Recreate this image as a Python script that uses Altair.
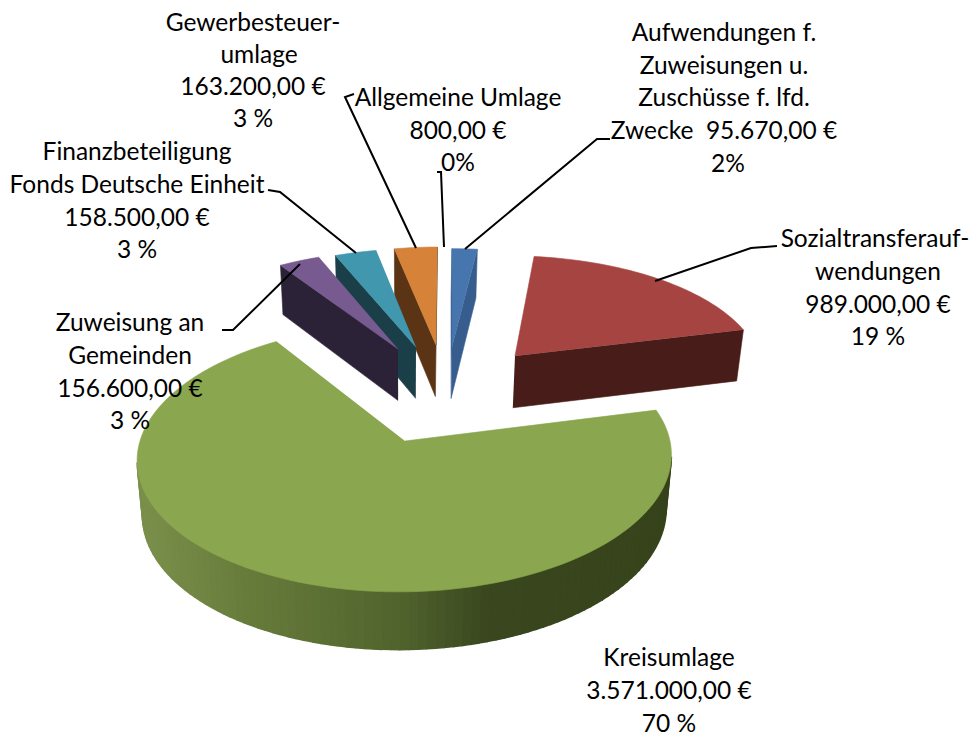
import math
import altair as alt
import pandas as pd

# ---- chart values
categories = ["Aufwendungen f. Zuweisungen u. Zuschüsse f. lfd. Zwecke", "Sozialtransferaufwendungen",
              "Kreisumlage", "Zuweisung an Gemeinden", "Finanzbeteiligung Fonds Deutsche Einheit",
              "Gewerbesteuerumlage", "Allgemeine Umlage"]
amounts = [95670, 989000, 3571000, 156600, 158500, 163200, 800]

top_colors = ["#4676ad", "#a54441", "#8aa64e", "#775a8f", "#4197ae", "#d68339", "#4f81bd"]
wall_colors = ["#375d8e", "#481c18", "#37441b", "#2c2238", "#1a3f49", "#5a3415", "#2f5582"]
# screen position of each slice's tip (exploded pie)
tip_x = [452, 515, 405, 398, 416, 436, 444]
tip_y = [347, 356, 441, 349, 347, 345, 345]
paint_order = [6, 5, 4, 3, 0, 1, 2]

label_lines = [
    ("Aufwendungen f.", 724, 34), ("Zuweisungen u.", 724, 67), ("Zuschüsse f. lfd.", 724, 99),
    ("Zwecke\u00a0\u00a095.670,00 €", 724, 132), ("2%", 728, 165),
    ("Gewerbesteuer-", 253, 24), ("umlage", 259, 56), ("163.200,00 €", 253, 88), ("3 %", 253, 120),
    ("Allgemeine Umlage", 458, 99), ("800,00 €", 458, 132), ("0%", 458, 164),
    ("Finanzbeteiligung", 137, 153), ("Fonds Deutsche Einheit", 137, 186), ("158.500,00 €", 137, 219), ("3 %", 137, 251),
    ("Zuweisung an", 130, 324), ("Gemeinden", 130, 357), ("156.600,00 €", 130, 390), ("3 %", 130, 422),
    ("Sozialtransferauf-", 875, 240), ("wendungen", 878, 273), ("989.000,00 €", 878, 306), ("19 %", 878, 338),
    ("Kreisumlage", 669, 659), ("3.571.000,00 €", 669, 692), ("70 %", 669, 725),
]
leaders = [
    [(777, 246), (751, 248), (655, 281)],
    [(610, 139), (597, 139), (465, 249)],
    [(437, 172), (441, 172), (444, 247)],
    [(354, 94), (345, 97), (416, 248)],
    [(268, 190), (280, 192), (356, 253)],
    [(222, 330), (233, 330), (300, 264)],
]

# ---- 3-D pie geometry (perspective view of a tilted disc)
VX, CY, R, RS, P = 452, 441, 265, 132, 0.125


def project(u, v):
    w = 1 - P * v
    return VX + R * u / w, CY + RS * v / w, w


def base(x, y, w):
    d = 54 / math.sqrt(w)
    return 405 + (x - 405) * 0.98, y + d


def mix(stops, x):
    if x <= stops[0][0]:
        return stops[0][1]
    for (x0, c0), (x1, c1) in zip(stops, stops[1:]):
        if x <= x1:
            t = (x - x0) / (x1 - x0)
            rgb = [round(int(c0[i:i + 2], 16) * (1 - t) + int(c1[i:i + 2], 16) * t) for i in (1, 3, 5)]
            return "#%02x%02x%02x" % tuple(rgb)
    return stops[-1][1]


green_stops = [(144, "#7a8f4a"), (250, "#667b3a"), (400, "#50632d"), (490, "#3a471e"), (672, "#36431b")]

rows = []
poly_id = [0]


def add_poly(points, fill, sw):
    for i, (x, y) in enumerate(points):
        rows.append({"x": x, "y": y, "poly": poly_id[0], "i": i, "fill": fill, "sw": sw})
    poly_id[0] += 1


total = sum(amounts)
start = 0.0
slices = {}
for k, amt in enumerate(amounts):
    sweep = 2 * math.pi * amt / total
    dx, dy = tip_x[k] - VX, tip_y[k] - CY
    v0 = dy / (RS + P * dy)
    u0 = dx * (1 - P * v0) / R
    n = max(2, int(sweep / 0.03))
    arc = []
    for j in range(n + 1):
        a = start + sweep * j / n
        arc.append(project(u0 + math.sin(a), v0 - math.cos(a)))
    slices[k] = (u0, v0, arc, sweep)
    start += sweep

# back-to-front painting; a slice too thin to see leaves no mark; hidden walls are skipped
for k in paint_order:
    u0, v0, arc, sweep = slices[k]
    if sweep < 0.005:
        continue
    tx, ty, tw = project(u0, v0)
    wall = wall_colors[k]
    if sweep < math.pi:
        for this, other in ((arc[0], arc[-1]), (arc[-1], arc[0])):
            ex, ey = this[0] - tx, this[1] - ty
            ox, oy = other[0] - tx, other[1] - ty
            if (ex * oy - ey * ox) * ex > 0:
                continue  # the wall falls behind the slice's own top
            add_poly([(tx, ty), this[:2], base(*this), base(tx, ty, tw)], wall, 0.6)
    for (x0, y0, w0), (x1, y1, w1) in zip(arc, arc[1:]):
        if x1 >= x0:
            continue  # back of the rim
        fill = mix(green_stops, (x0 + x1) / 2) if k == 2 else wall
        add_poly([(x0, y0), (x1, y1), base(x1, y1, w1), base(x0, y0, w0)], fill, 1.6)
    add_poly([(tx, ty)] + [(a[0], a[1]) for a in arc], top_colors[k], 0.6)

polys = pd.DataFrame(rows)

x_scale = alt.Scale(domain=[8, 970], nice=False, zero=False)
y_scale = alt.Scale(domain=[738, 8], nice=False, zero=False)
X = alt.X("x:Q", scale=x_scale, axis=None)
Y = alt.Y("y:Q", scale=y_scale, axis=None)

pie = alt.Chart(polys).mark_line(interpolate="linear", filled=True).encode(
    x=X, y=Y,
    detail="poly:N",
    order="i:Q",
    fill=alt.Fill("fill:N", scale=None, legend=None),
    stroke=alt.Stroke("fill:N", scale=None, legend=None),
    strokeWidth=alt.StrokeWidth("sw:Q", scale=None, legend=None),
)

lead_rows = [{"x": x, "y": y, "g": g, "i": i} for g, pts in enumerate(leaders) for i, (x, y) in enumerate(pts)]
lead = alt.Chart(pd.DataFrame(lead_rows)).mark_line(color="#000000", strokeWidth=2).encode(
    x=X, y=Y, detail="g:N", order="i:Q")

text = alt.Chart(pd.DataFrame(label_lines, columns=["t", "x", "y"])).mark_text(
    font="Lato", fontSize=24.5, color="#000000", align="center", baseline="middle"
).encode(x=X, y=Y, text="t:N")

chart = (pie + lead + text).properties(
    width=962, height=730, padding=0, autosize=alt.AutoSizeParams(type="none"), background="#ffffff"
).configure_view(stroke=None)

chart.save("out.html", embed_options={"renderer": "svg", "actions": False})
